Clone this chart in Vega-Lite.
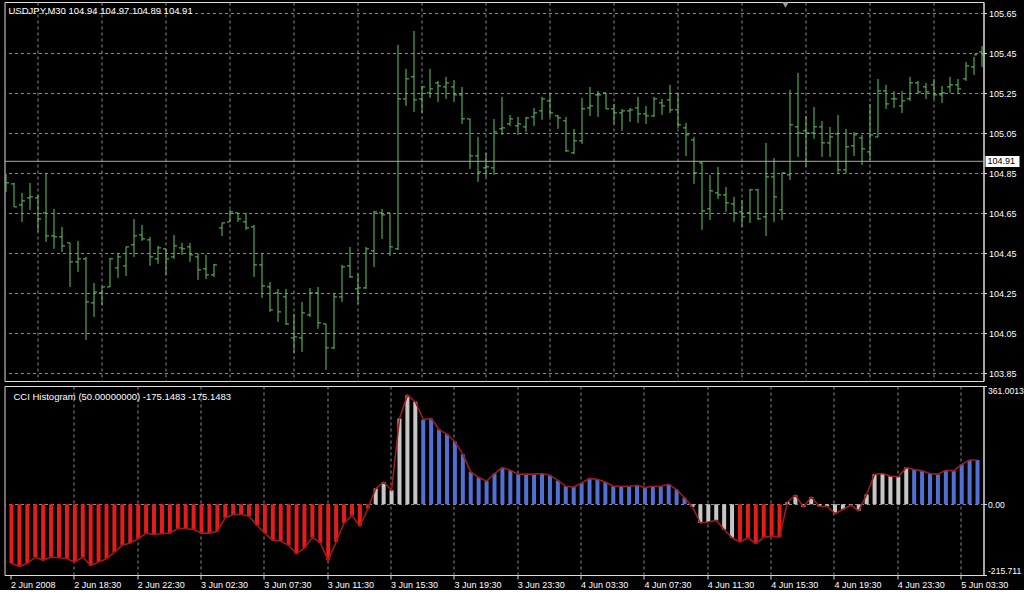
{
  "$schema": "https://vega.github.io/schema/vega-lite/v6.json",
  "background": "#000000",
  "padding": {"left": 3.5, "top": 1, "right": 0, "bottom": 0},
  "autosize": {"type": "pad"},
  "spacing": 3,
  "config": {
    "view": {"stroke": "#dcdcdc", "strokeWidth": 1},
    "axis": {
      "labelColor": "#ffffff",
      "labelFont": "Liberation Sans",
      "labelFontSize": 9,
      "gridColor": "#8c8c8c",
      "gridDash": [3, 3],
      "gridWidth": 1,
      "tickColor": "#dcdcdc",
      "domainColor": "#dcdcdc"
    }
  },
  "datasets": {
    "ohlc": [
      {"i":0,"o":104.827,"h":104.847,"l":104.757,"c":104.802},
      {"i":1,"o":104.797,"h":104.802,"l":104.682,"c":104.682},
      {"i":2,"o":104.692,"h":104.752,"l":104.607,"c":104.712},
      {"i":3,"o":104.727,"h":104.802,"l":104.667,"c":104.732},
      {"i":4,"o":104.727,"h":104.742,"l":104.557,"c":104.622},
      {"i":5,"o":104.652,"h":104.852,"l":104.507,"c":104.537},
      {"i":6,"o":104.537,"h":104.672,"l":104.472,"c":104.532},
      {"i":7,"o":104.532,"h":104.582,"l":104.457,"c":104.487},
      {"i":8,"o":104.502,"h":104.502,"l":104.282,"c":104.407},
      {"i":9,"o":104.407,"h":104.512,"l":104.357,"c":104.422},
      {"i":10,"o":104.422,"h":104.432,"l":104.017,"c":104.207},
      {"i":11,"o":104.202,"h":104.302,"l":104.132,"c":104.257},
      {"i":12,"o":104.252,"h":104.282,"l":104.192,"c":104.282},
      {"i":13,"o":104.282,"h":104.427,"l":104.282,"c":104.422},
      {"i":14,"o":104.377,"h":104.452,"l":104.327,"c":104.432},
      {"i":15,"o":104.387,"h":104.482,"l":104.337,"c":104.482},
      {"i":16,"o":104.492,"h":104.622,"l":104.432,"c":104.537},
      {"i":17,"o":104.542,"h":104.592,"l":104.512,"c":104.522},
      {"i":18,"o":104.517,"h":104.532,"l":104.387,"c":104.432},
      {"i":19,"o":104.422,"h":104.487,"l":104.397,"c":104.477},
      {"i":20,"o":104.472,"h":104.472,"l":104.342,"c":104.422},
      {"i":21,"o":104.432,"h":104.542,"l":104.422,"c":104.487},
      {"i":22,"o":104.477,"h":104.502,"l":104.442,"c":104.472},
      {"i":23,"o":104.482,"h":104.502,"l":104.407,"c":104.442},
      {"i":24,"o":104.432,"h":104.447,"l":104.317,"c":104.367},
      {"i":25,"o":104.372,"h":104.442,"l":104.322,"c":104.342},
      {"i":26,"o":104.342,"h":104.397,"l":104.332,"c":104.392},
      {"i":27,"o":104.577,"h":104.602,"l":104.537,"c":104.602},
      {"i":28,"o":104.607,"h":104.667,"l":104.607,"c":104.657},
      {"i":29,"o":104.652,"h":104.652,"l":104.607,"c":104.622},
      {"i":30,"o":104.607,"h":104.652,"l":104.567,"c":104.577},
      {"i":31,"o":104.582,"h":104.592,"l":104.332,"c":104.392},
      {"i":32,"o":104.392,"h":104.452,"l":104.227,"c":104.287},
      {"i":33,"o":104.282,"h":104.307,"l":104.157,"c":104.167},
      {"i":34,"o":104.252,"h":104.272,"l":104.107,"c":104.157},
      {"i":35,"o":104.232,"h":104.272,"l":104.092,"c":104.097},
      {"i":36,"o":104.027,"h":104.147,"l":103.952,"c":104.032},
      {"i":37,"o":104.027,"h":104.207,"l":103.957,"c":104.152},
      {"i":38,"o":104.142,"h":104.277,"l":104.132,"c":104.252},
      {"i":39,"o":104.252,"h":104.282,"l":104.072,"c":104.102},
      {"i":40,"o":104.097,"h":104.097,"l":103.867,"c":103.977},
      {"i":41,"o":103.977,"h":104.252,"l":103.972,"c":104.232},
      {"i":42,"o":104.232,"h":104.392,"l":104.207,"c":104.382},
      {"i":43,"o":104.387,"h":104.482,"l":104.327,"c":104.332},
      {"i":44,"o":104.272,"h":104.347,"l":104.197,"c":104.277},
      {"i":45,"o":104.277,"h":104.482,"l":104.272,"c":104.472},
      {"i":46,"o":104.462,"h":104.662,"l":104.382,"c":104.657},
      {"i":47,"o":104.652,"h":104.672,"l":104.522,"c":104.642},
      {"i":48,"o":104.652,"h":104.652,"l":104.437,"c":104.482},
      {"i":49,"o":104.472,"h":105.492,"l":104.467,"c":105.222},
      {"i":50,"o":105.222,"h":105.372,"l":105.187,"c":105.322},
      {"i":51,"o":105.332,"h":105.562,"l":105.157,"c":105.217},
      {"i":52,"o":105.222,"h":105.287,"l":105.152,"c":105.282},
      {"i":53,"o":105.252,"h":105.372,"l":105.227,"c":105.272},
      {"i":54,"o":105.302,"h":105.312,"l":105.207,"c":105.287},
      {"i":55,"o":105.282,"h":105.332,"l":105.222,"c":105.302},
      {"i":56,"o":105.282,"h":105.317,"l":105.207,"c":105.242},
      {"i":57,"o":105.242,"h":105.282,"l":105.097,"c":105.122},
      {"i":58,"o":105.122,"h":105.122,"l":104.872,"c":104.937},
      {"i":59,"o":104.937,"h":105.032,"l":104.807,"c":104.857},
      {"i":60,"o":104.877,"h":104.952,"l":104.832,"c":104.882},
      {"i":61,"o":104.877,"h":105.122,"l":104.842,"c":105.057},
      {"i":62,"o":105.072,"h":105.232,"l":105.042,"c":105.077},
      {"i":63,"o":105.097,"h":105.142,"l":105.087,"c":105.122},
      {"i":64,"o":105.087,"h":105.132,"l":105.042,"c":105.097},
      {"i":65,"o":105.082,"h":105.132,"l":105.057,"c":105.127},
      {"i":66,"o":105.132,"h":105.177,"l":105.087,"c":105.152},
      {"i":67,"o":105.162,"h":105.232,"l":105.117,"c":105.222},
      {"i":68,"o":105.212,"h":105.252,"l":105.132,"c":105.152},
      {"i":69,"o":105.137,"h":105.142,"l":105.072,"c":105.127},
      {"i":70,"o":105.112,"h":105.132,"l":104.957,"c":104.962},
      {"i":71,"o":104.952,"h":105.072,"l":104.947,"c":105.012},
      {"i":72,"o":105.012,"h":105.227,"l":104.997,"c":105.172},
      {"i":73,"o":105.177,"h":105.282,"l":105.137,"c":105.187},
      {"i":74,"o":105.242,"h":105.262,"l":105.132,"c":105.242},
      {"i":75,"o":105.252,"h":105.252,"l":105.172,"c":105.172},
      {"i":76,"o":105.172,"h":105.197,"l":105.097,"c":105.152},
      {"i":77,"o":105.152,"h":105.172,"l":105.062,"c":105.162},
      {"i":78,"o":105.162,"h":105.177,"l":105.107,"c":105.167},
      {"i":79,"o":105.177,"h":105.232,"l":105.102,"c":105.147},
      {"i":80,"o":105.147,"h":105.187,"l":105.097,"c":105.137},
      {"i":81,"o":105.137,"h":105.232,"l":105.132,"c":105.222},
      {"i":82,"o":105.202,"h":105.222,"l":105.142,"c":105.187},
      {"i":83,"o":105.217,"h":105.292,"l":105.152,"c":105.167},
      {"i":84,"o":105.167,"h":105.252,"l":105.077,"c":105.092},
      {"i":85,"o":105.077,"h":105.102,"l":104.937,"c":105.042},
      {"i":86,"o":105.017,"h":105.032,"l":104.797,"c":104.852},
      {"i":87,"o":104.902,"h":104.907,"l":104.567,"c":104.662},
      {"i":88,"o":104.672,"h":104.842,"l":104.617,"c":104.762},
      {"i":89,"o":104.752,"h":104.882,"l":104.722,"c":104.742},
      {"i":90,"o":104.742,"h":104.782,"l":104.657,"c":104.702},
      {"i":91,"o":104.697,"h":104.732,"l":104.607,"c":104.652},
      {"i":92,"o":104.657,"h":104.717,"l":104.582,"c":104.632},
      {"i":93,"o":104.652,"h":104.772,"l":104.602,"c":104.767},
      {"i":94,"o":104.767,"h":104.772,"l":104.617,"c":104.622},
      {"i":95,"o":104.632,"h":105.002,"l":104.537,"c":104.832},
      {"i":96,"o":104.832,"h":104.927,"l":104.607,"c":104.732},
      {"i":97,"o":104.667,"h":104.852,"l":104.617,"c":104.852},
      {"i":98,"o":104.842,"h":105.267,"l":104.817,"c":105.092},
      {"i":99,"o":105.082,"h":105.352,"l":104.932,"c":105.052},
      {"i":100,"o":105.062,"h":105.137,"l":104.882,"c":105.052},
      {"i":101,"o":105.052,"h":105.182,"l":105.022,"c":105.082},
      {"i":102,"o":105.082,"h":105.112,"l":104.932,"c":105.002},
      {"i":103,"o":105.002,"h":105.082,"l":104.932,"c":105.032},
      {"i":104,"o":105.047,"h":105.142,"l":104.852,"c":104.867},
      {"i":105,"o":104.867,"h":105.072,"l":104.852,"c":104.982},
      {"i":106,"o":104.987,"h":105.057,"l":104.937,"c":105.042},
      {"i":107,"o":105.027,"h":105.042,"l":104.892,"c":104.972},
      {"i":108,"o":104.957,"h":105.197,"l":104.917,"c":105.042},
      {"i":109,"o":105.032,"h":105.322,"l":105.032,"c":105.262},
      {"i":110,"o":105.262,"h":105.292,"l":105.172,"c":105.197},
      {"i":111,"o":105.222,"h":105.262,"l":105.177,"c":105.222},
      {"i":112,"o":105.187,"h":105.262,"l":105.152,"c":105.212},
      {"i":113,"o":105.222,"h":105.332,"l":105.212,"c":105.302},
      {"i":114,"o":105.302,"h":105.312,"l":105.247,"c":105.257},
      {"i":115,"o":105.282,"h":105.302,"l":105.222,"c":105.257},
      {"i":116,"o":105.292,"h":105.322,"l":105.222,"c":105.242},
      {"i":117,"o":105.242,"h":105.287,"l":105.202,"c":105.252},
      {"i":118,"o":105.282,"h":105.332,"l":105.252,"c":105.292},
      {"i":119,"o":105.292,"h":105.322,"l":105.252,"c":105.272},
      {"i":120,"o":105.322,"h":105.407,"l":105.312,"c":105.387},
      {"i":121,"o":105.382,"h":105.432,"l":105.342,"c":105.442},
      {"i":122,"o":105.457,"h":105.487,"l":105.382,"c":105.442}
    ],
    "cci": [
      {"i":0,"v":-180,"k":"r"},{"i":1,"v":-190,"k":"r"},{"i":2,"v":-180,"k":"r"},{"i":3,"v":-161,"k":"r"},
      {"i":4,"v":-171,"k":"r"},{"i":5,"v":-161,"k":"r"},{"i":6,"v":-163,"k":"r"},{"i":7,"v":-166,"k":"r"},
      {"i":8,"v":-176,"k":"r"},{"i":9,"v":-161,"k":"r"},{"i":10,"v":-187,"k":"r"},{"i":11,"v":-176,"k":"r"},
      {"i":12,"v":-166,"k":"r"},{"i":13,"v":-146,"k":"r"},{"i":14,"v":-125,"k":"r"},{"i":15,"v":-118,"k":"r"},
      {"i":16,"v":-105,"k":"r"},{"i":17,"v":-88,"k":"r"},{"i":18,"v":-92,"k":"r"},{"i":19,"v":-90,"k":"r"},
      {"i":20,"v":-88,"k":"r"},{"i":21,"v":-74,"k":"r"},{"i":22,"v":-74,"k":"r"},{"i":23,"v":-77,"k":"r"},
      {"i":24,"v":-88,"k":"r"},{"i":25,"v":-88,"k":"r"},{"i":26,"v":-82,"k":"r"},{"i":27,"v":-41,"k":"r"},
      {"i":28,"v":-31,"k":"r"},{"i":29,"v":-31,"k":"r"},{"i":30,"v":-36,"k":"r"},{"i":31,"v":-64,"k":"r"},
      {"i":32,"v":-88,"k":"r"},{"i":33,"v":-110,"k":"r"},{"i":34,"v":-112,"k":"r"},{"i":35,"v":-125,"k":"r"},
      {"i":36,"v":-151,"k":"r"},{"i":37,"v":-133,"k":"r"},{"i":38,"v":-100,"k":"r"},{"i":39,"v":-118,"k":"r"},
      {"i":40,"v":-171,"k":"r"},{"i":41,"v":-115,"k":"r"},{"i":42,"v":-57,"k":"r"},{"i":43,"v":-34,"k":"r"},
      {"i":44,"v":-67,"k":"r"},{"i":45,"v":-13,"k":"r"},{"i":46,"v":48,"k":"g"},{"i":47,"v":68,"k":"g"},
      {"i":48,"v":43,"k":"g"},{"i":49,"v":262,"k":"g"},{"i":50,"v":333,"k":"g"},{"i":51,"v":313,"k":"g"},
      {"i":52,"v":259,"k":"b"},{"i":53,"v":262,"k":"b"},{"i":54,"v":228,"k":"b"},{"i":55,"v":214,"k":"b"},
      {"i":56,"v":191,"k":"b"},{"i":57,"v":153,"k":"b"},{"i":58,"v":99,"k":"b"},{"i":59,"v":82,"k":"b"},
      {"i":60,"v":71,"k":"b"},{"i":61,"v":94,"k":"b"},{"i":62,"v":112,"k":"b"},{"i":63,"v":104,"k":"b"},
      {"i":64,"v":92,"k":"b"},{"i":65,"v":92,"k":"b"},{"i":66,"v":92,"k":"b"},{"i":67,"v":94,"k":"b"},
      {"i":68,"v":89,"k":"b"},{"i":69,"v":73,"k":"b"},{"i":70,"v":55,"k":"b"},{"i":71,"v":53,"k":"b"},
      {"i":72,"v":65,"k":"b"},{"i":73,"v":79,"k":"b"},{"i":74,"v":76,"k":"b"},{"i":75,"v":68,"k":"b"},
      {"i":76,"v":55,"k":"b"},{"i":77,"v":55,"k":"b"},{"i":78,"v":55,"k":"b"},{"i":79,"v":58,"k":"b"},
      {"i":80,"v":51,"k":"b"},{"i":81,"v":55,"k":"b"},{"i":82,"v":55,"k":"b"},{"i":83,"v":61,"k":"b"},
      {"i":84,"v":45,"k":"b"},{"i":85,"v":20,"k":"b"},{"i":86,"v":-8,"k":"g"},{"i":87,"v":-57,"k":"g"},
      {"i":88,"v":-54,"k":"g"},{"i":89,"v":-49,"k":"g"},{"i":90,"v":-77,"k":"g"},{"i":91,"v":-102,"k":"g"},
      {"i":92,"v":-115,"k":"r"},{"i":93,"v":-102,"k":"r"},{"i":94,"v":-120,"k":"r"},{"i":95,"v":-100,"k":"r"},
      {"i":96,"v":-98,"k":"r"},{"i":97,"v":-100,"k":"r"},{"i":98,"v":7,"k":"g"},{"i":99,"v":28,"k":"g"},
      {"i":100,"v":-8,"k":"g"},{"i":101,"v":22,"k":"g"},{"i":102,"v":-6,"k":"g"},{"i":103,"v":-6,"k":"g"},
      {"i":104,"v":-28,"k":"g"},{"i":105,"v":-16,"k":"g"},{"i":106,"v":-3,"k":"g"},{"i":107,"v":-20,"k":"g"},
      {"i":108,"v":30,"k":"g"},{"i":109,"v":92,"k":"g"},{"i":110,"v":94,"k":"g"},{"i":111,"v":86,"k":"g"},
      {"i":112,"v":84,"k":"g"},{"i":113,"v":112,"k":"g"},{"i":114,"v":106,"k":"b"},{"i":115,"v":102,"k":"b"},
      {"i":116,"v":94,"k":"b"},{"i":117,"v":92,"k":"b"},{"i":118,"v":104,"k":"b"},{"i":119,"v":102,"k":"b"},
      {"i":120,"v":122,"k":"b"},{"i":121,"v":135,"k":"b"},{"i":122,"v":135,"k":"b"}
    ]
  },
  "vconcat": [
    {
      "width": 979,
      "height": 379,
      "layer": [
        {
          "data": {"name": "ohlc"},
          "mark": {"type": "rule", "color": "#62c862", "strokeWidth": 1, "xOffset": 0.5, "clip": true},
          "encoding": {
            "x": {
              "field": "i", "type": "quantitative", "title": null,
              "scale": {"domain": [-0.125, 122.25], "nice": false, "zero": false},
              "axis": {
                "orient": "bottom", "values": [4,8,12,16,20,24,28,32,36,40,44,48,52,56,60,64,68,72,76,80,84,88,92,96,100,104,108,112,116,120],
                "labels": false, "ticks": false, "domain": false, "grid": true
              }
            },
            "y": {
              "field": "l", "type": "quantitative", "title": null,
              "scale": {"domain": [103.8115, 105.7065], "nice": false, "zero": false},
              "axis": {
                "orient": "right", "values": [103.85,104.05,104.25,104.45,104.65,104.85,105.05,105.25,105.45,105.65],
                "format": ".2f", "grid": true, "tickSize": 3, "labelPadding": 2, "domain": true
              }
            },
            "y2": {"field": "h"}
          }
        },
        {
          "data": {"name": "ohlc"},
          "mark": {"type": "rule", "color": "#62c862", "strokeWidth": 1, "xOffset": -2.5, "x2Offset": 0.5, "clip": true},
          "encoding": {
            "x": {"field": "i", "type": "quantitative", "title": null},
            "x2": {"field": "i"},
            "y": {"field": "o", "type": "quantitative", "title": null}
          }
        },
        {
          "data": {"name": "ohlc"},
          "mark": {"type": "rule", "color": "#62c862", "strokeWidth": 1, "xOffset": 0.5, "x2Offset": 3.5, "clip": true},
          "encoding": {
            "x": {"field": "i", "type": "quantitative", "title": null},
            "x2": {"field": "i"},
            "y": {"field": "c", "type": "quantitative", "title": null}
          }
        },
        {
          "data": {"values": [{"p": 104.91}]},
          "mark": {"type": "rule", "color": "#a8a8a8", "strokeWidth": 1},
          "encoding": {"y": {"field": "p", "type": "quantitative", "title": null}}
        },
        {
          "data": {"values": [{"x1": 122.5, "x2": 126.75, "y1": 104.9365, "y2": 104.8815}]},
          "mark": {"type": "rect", "color": "#ffffff", "clip": false},
          "encoding": {
            "x": {"field": "x1", "type": "quantitative", "title": null},
            "x2": {"field": "x2"},
            "y": {"field": "y1", "type": "quantitative", "title": null},
            "y2": {"field": "y2"}
          }
        },
        {
          "data": {"values": [{"x": 122.5, "p": 104.91, "t": "104.91"}]},
          "mark": {"type": "text", "color": "#000000", "align": "left", "baseline": "middle", "dx": 2, "font": "Liberation Sans", "fontSize": 9},
          "encoding": {
            "x": {"field": "x", "type": "quantitative", "title": null},
            "y": {"field": "p", "type": "quantitative", "title": null},
            "text": {"field": "t"}
          }
        },
        {
          "data": {"values": [{"x": 97.5, "p": 105.691}]},
          "mark": {"type": "point", "shape": "triangle-down", "filled": true, "color": "#a0a0a0", "size": 40, "opacity": 1, "clip": true},
          "encoding": {
            "x": {"field": "x", "type": "quantitative", "title": null},
            "y": {"field": "p", "type": "quantitative", "title": null}
          }
        },
        {
          "data": {"values": [{"x": -0.125, "p": 105.7065, "t": "USDJPY,M30  104.94 104.97 104.89 104.91"}]},
          "mark": {"type": "text", "color": "#ffffff", "align": "left", "baseline": "top", "dx": 4, "dy": 4, "font": "Liberation Sans", "fontSize": 9.5},
          "encoding": {
            "x": {"field": "x", "type": "quantitative", "title": null},
            "y": {"field": "p", "type": "quantitative", "title": null},
            "text": {"field": "t"}
          }
        }
      ]
    },
    {
      "width": 979,
      "height": 189,
      "layer": [
        {
          "data": {"name": "cci"},
          "mark": {"type": "bar", "size": 4, "xOffset": 1, "clip": true},
          "encoding": {
            "x": {
              "field": "i", "type": "quantitative", "title": null,
              "scale": {"domain": [-0.125, 122.25], "nice": false, "zero": false},
              "axis": {
                "orient": "bottom",
                "values": [0,4,8,12,16,20,24,28,32,36,40,44,48,52,56,60,64,68,72,76,80,84,88,92,96,100,104,108,112,116,120],
                "grid": true,
                "gridOpacity": {"condition": {"test": "datum.value == 0", "value": 0}, "value": 1},
                "domain": false,
                "tickSize": 4,
                "tickOpacity": {"condition": {"test": "datum.value % 8 == 0", "value": 1}, "value": 0},
                "labelAlign": "left",
                "labelBaseline": "top",
                "labelPadding": 1,
                "labelFlush": false,
                "labelOverlap": false,
                "labelExpr": "datum.value % 8 == 0 ? ['2 Jun 2008','2 Jun 18:30','2 Jun 22:30','3 Jun 02:30','3 Jun 07:30','3 Jun 11:30','3 Jun 15:30','3 Jun 19:30','3 Jun 23:30','4 Jun 03:30','4 Jun 07:30','4 Jun 11:30','4 Jun 15:30','4 Jun 19:30','4 Jun 23:30','5 Jun 03:30'][datum.value / 8] : ''"
              }
            },
            "y": {
              "field": "v", "type": "quantitative", "title": null,
              "scale": {"domain": [-215.711, 361.0013], "nice": false, "zero": false},
              "axis": {
                "orient": "right",
                "values": [-215.711, 0, 361.0013],
                "labelExpr": "datum.value == 0 ? '0.00' : (datum.value > 0 ? '361.0013' : '-215.711')",
                "labelFlush": true,
                "labelFontSize": 8.6,
                "grid": true,
                "gridOpacity": {"condition": {"test": "datum.value == 0", "value": 1}, "value": 0},
                "tickSize": 3,
                "labelPadding": 1,
                "domain": true
              }
            },
            "y2": {"datum": 0},
            "color": {
              "field": "k", "type": "nominal", "legend": null,
              "scale": {"domain": ["r", "g", "b"], "range": ["#e61c1c", "#c6c6c6", "#5070d4"]}
            }
          }
        },
        {
          "data": {"name": "cci"},
          "mark": {"type": "line", "color": "#9a1c1c", "strokeWidth": 1.6, "xOffset": 1, "clip": true},
          "encoding": {
            "x": {"field": "i", "type": "quantitative", "title": null},
            "y": {"field": "v", "type": "quantitative", "title": null}
          }
        },
        {
          "data": {"values": [{"x": -0.125, "p": 361.0013, "t": "CCI Histogram (50.00000000) -175.1483 -175.1483"}]},
          "mark": {"type": "text", "color": "#ffffff", "align": "left", "baseline": "top", "dx": 4, "dy": 6, "font": "Liberation Sans", "fontSize": 9.5},
          "encoding": {
            "x": {"field": "x", "type": "quantitative", "title": null},
            "y": {"field": "p", "type": "quantitative", "title": null},
            "text": {"field": "t"}
          }
        }
      ]
    }
  ]
}
